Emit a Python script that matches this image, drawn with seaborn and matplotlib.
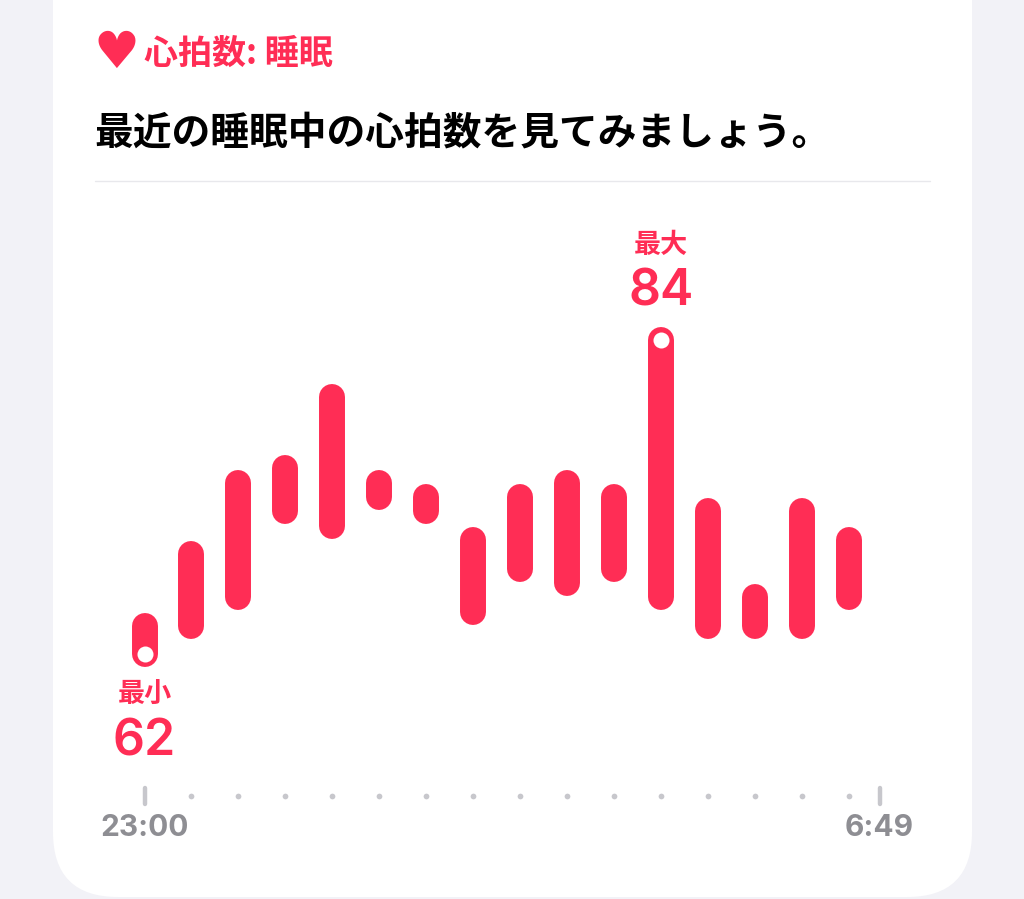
# Sleep heart rate card
import pandas as pd
import matplotlib.pyplot as plt
import seaborn as sns
from matplotlib.markers import MarkerStyle
from matplotlib.patches import FancyBboxPatch

# Data
slots = list(range(16))
low = [62, 64, 66, 72, 71, 73, 72, 65, 68, 67, 68, 66, 64, 64, 64, 66]
high = [64, 69, 74, 75, 80, 74, 73, 70, 73, 74, 73, 84, 72, 66, 72, 70]
tick_labels = ['23:00', '6:49']
tick_ends = [0, 15.64]
header = '心拍数: 睡眠'
title = '最近の睡眠中の心拍数を見てみましょう。'

df = pd.DataFrame({'slot': slots * 2, 'bpm': low + high})

RED = '#ff2d55'
GRAY = '#8e8e93'
TICK = '#c7c7cc'

sns.set_theme(style='white')
plt.rcParams['font.family'] = ['Noto Sans CJK JP', 'DejaVu Sans']

fig = plt.figure(figsize=(10.24, 8.99), dpi=100, facecolor='#f2f2f7')

# card, header and divider are drawn in pixel coordinates
bg = fig.add_axes([0, 0, 1, 1])
bg.set_xlim(0, 1024)
bg.set_ylim(899, 0)
bg.axis('off')
bg.add_patch(FancyBboxPatch((53, -100), 919, 997,
                            boxstyle='round,pad=0,rounding_size=65',
                            facecolor='white', edgecolor='none'))
bg.plot([95, 930], [181, 181], color='#e8e8ec', lw=1)
bg.text(116, 54, '♥', color=RED, fontsize=37, family='DejaVu Sans',
        ha='center', va='center')
bg.text(144, 53, header, color=RED, fontsize=24.5, fontweight='bold',
        ha='left', va='center')
bg.text(94, 133, title, color='black', fontsize=27.9, fontweight='bold',
        ha='left', va='center')

# chart: 47 px per slot, 14.318 px per bpm, 62 bpm sits at y=654
ax = fig.add_axes([144.5 / 1024, 1 - 796 / 899, 735 / 1024, 595.5 / 899])
ax.patch.set_alpha(0)

sns.lineplot(data=df, x='slot', y='bpm', units='slot', estimator=None,
             color=RED, lw=18.7, solid_capstyle='round', legend=False, ax=ax,
             clip_on=False)

# white rings on the minimum and maximum
sns.scatterplot(x=[slots[low.index(min(low))], slots[high.index(max(high))]],
                y=[min(low), max(high)], color='white', s=133, linewidth=0,
                legend=False, ax=ax, zorder=5, clip_on=False)

ax.set_xlim(0, 735 / 47)
ax.set_ylim(62 - 141.5 / 14.318, 62 + 454 / 14.318)

# min and max labels
for x, y, word, off1, off2 in [(0, min(low), '最小', -28.5, -63),
                               (11, max(high), '最大', 68, 34)]:
    ax.annotate(word, (x, y), xytext=(0, off1), textcoords='offset points',
                ha='center', va='center', color=RED, fontsize=19.5,
                fontweight='bold')
    ax.annotate(str(y), (x, y), xytext=(0, off2), textcoords='offset points',
                ha='center', va='center', color=RED, fontsize=36,
                fontweight='semibold', family=['Inter', 'DejaVu Sans'])

# time axis
sns.scatterplot(x=slots[1:], y=[0] * 15, color=TICK, s=17, linewidth=0,
                legend=False, ax=ax, transform=ax.get_xaxis_transform(),
                clip_on=False)
ax.set_xticks(tick_ends)
ax.set_xticklabels(tick_labels, fontsize=21.5, fontweight='bold', color=GRAY,
                   family=['Inter', 'DejaVu Sans'])
ax.set_yticks([])
ax.set_xlabel('')
ax.set_ylabel('')
ax.tick_params(axis='x', bottom=True, direction='inout', length=12, width=3.2,
               color=TICK, pad=7)
for tick in ax.xaxis.get_major_ticks():
    tick.tick1line.set_marker(MarkerStyle('|', capstyle='round'))
sns.despine(ax=ax, left=True, bottom=True)

plt.savefig('out.png', dpi=100, facecolor=fig.get_facecolor())
